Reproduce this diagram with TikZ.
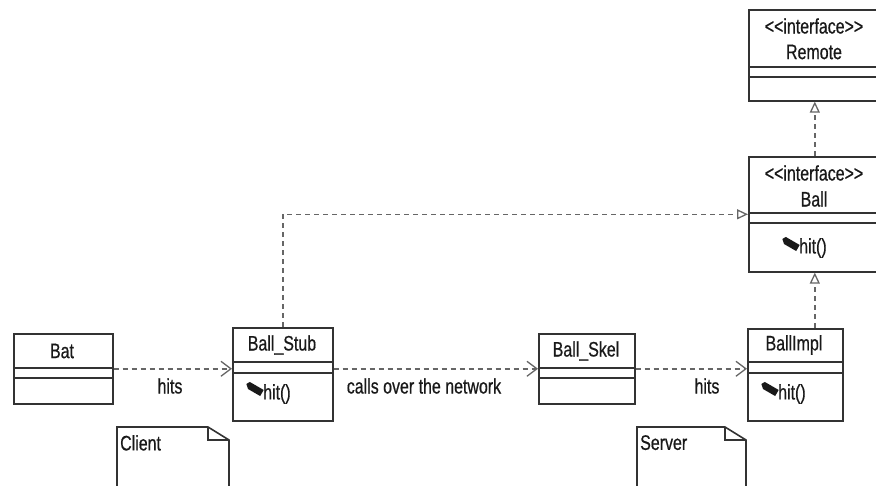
\documentclass[tikz,border=0pt]{standalone}
\usepackage{fontspec}
\setmainfont{Liberation Sans}[FakeStretch=0.76,FakeBold=0.6]
\usetikzlibrary{arrows.meta}
\tikzset{
  cls/.style={draw=black!80, line width=1.6pt, anchor=north west, inner sep=0pt, fill=none},
  sep/.style={draw=black!80, line width=1.6pt},
  lbl/.style={font=\fontsize{21}{21}\selectfont, inner sep=0pt, text=black!90},
  dep/.style={draw=black!60, line width=1.5pt, dash pattern=on 5pt off 4pt, -{Straight Barb[length=10pt,width=15pt,line width=1.3pt]}},
  real/.style={draw=black!60, line width=1.5pt, dash pattern=on 5pt off 4pt, -{Triangle[open,length=11pt,width=10pt,line width=1.3pt]}},
  note/.style={draw=black!80, line width=1.6pt},
}
\newcommand{\hiticon}[2]{%
  \fill[black!90, rotate around={-30:(#1,#2)}] (#1-8,#2-3.5) -- (#1+8,#2-3.5) -- (#1+8,#2+3.5) -- (#1-6,#2+3.5) -- (#1-10,#2) -- cycle;}
\newcommand{\iface}{{<}{<}interface{>}{>}}
\begin{document}
\begin{tikzpicture}[x=1pt,y=-1pt]
\useasboundingbox (0,0) rectangle (876,486);
\clip (0,0) rectangle (876,486);
% Remote
\node[cls, minimum width=132, minimum height=91] (remote) at (748,9) {};
\node[lbl] (remotet1) at (814,26) {\iface};
\node[lbl] (remotet2) at (814,52) {Remote};
\draw[sep] (748,67) -- (880,67);
\draw[sep] (748,77) -- (880,77);
% Ball
\node[cls, minimum width=132, minimum height=115] (ball) at (748,156) {};
\node[lbl] (ballt1) at (814,173) {\iface};
\node[lbl] (ballt2) at (814,199) {Ball};
\draw[sep] (748,213) -- (880,213);
\draw[sep] (748,223) -- (880,223);
\hiticon{791}{244}
\node[lbl, anchor=west] (ballop) at (799,248) {hit()};
% Bat
\node[cls, minimum width=99, minimum height=70] (bat) at (13,333) {};
\node[lbl] (batt) at (62,351) {Bat};
\draw[sep] (13,368) -- (112,368);
\draw[sep] (13,378) -- (112,378);
% Ball_Stub
\node[cls, minimum width=100, minimum height=93] (stub) at (232,327) {};
\node[lbl] (stubt) at (282,345) {Ball\_Stub};
\draw[sep] (232,362) -- (332,362);
\draw[sep] (232,373) -- (332,373);
\hiticon{255}{389}
\node[lbl, anchor=west] (stubop) at (263,394) {hit()};
% Ball_Skel
\node[cls, minimum width=96, minimum height=70] (skel) at (538,333) {};
\node[lbl] (skelt) at (586,351) {Ball\_Skel};
\draw[sep] (538,368) -- (634,368);
\draw[sep] (538,378) -- (634,378);
% BallImpl
\node[cls, minimum width=95, minimum height=92] (impl) at (747,328) {};
\node[lbl] (implt) at (794,345) {BallImpl};
\draw[sep] (747,362) -- (842,362);
\draw[sep] (747,373) -- (842,373);
\hiticon{770}{389}
\node[lbl, anchor=west] (implop) at (778,394) {hit()};
% Notes
\draw[note] (117,490) -- (117,427) -- (208,427) -- (229,440) -- (229,490);
\draw[note] (208,427) -- (208,440) -- (229,440);
\node[lbl, anchor=north west] (client) at (120,435) {Client};
\draw[note] (637,490) -- (637,427) -- (725,427) -- (746,440) -- (746,490);
\draw[note] (725,427) -- (725,440) -- (746,440);
\node[lbl, anchor=north west] (server) at (640,435) {Server};
% connectors
\draw[dep] (bat.east) -- (stub.west |- bat.east);
\node[lbl] (l1) at (170,386) {hits};
\draw[dep] (stub.east |- skel.west) -- (skel.west);
\node[lbl] (l2) at (424,386) {calls over the network};
\draw[dep] (skel.east) -- (impl.west |- skel.east);
\node[lbl] (l3) at (707,386) {hits};
\draw[real] (stub.north) |- (ball.west);
\draw[real] (ball.south |- impl.north) -- (ball.south);
\draw[real] (remote.south |- ball.north) -- (remote.south);
\end{tikzpicture}
\end{document}
